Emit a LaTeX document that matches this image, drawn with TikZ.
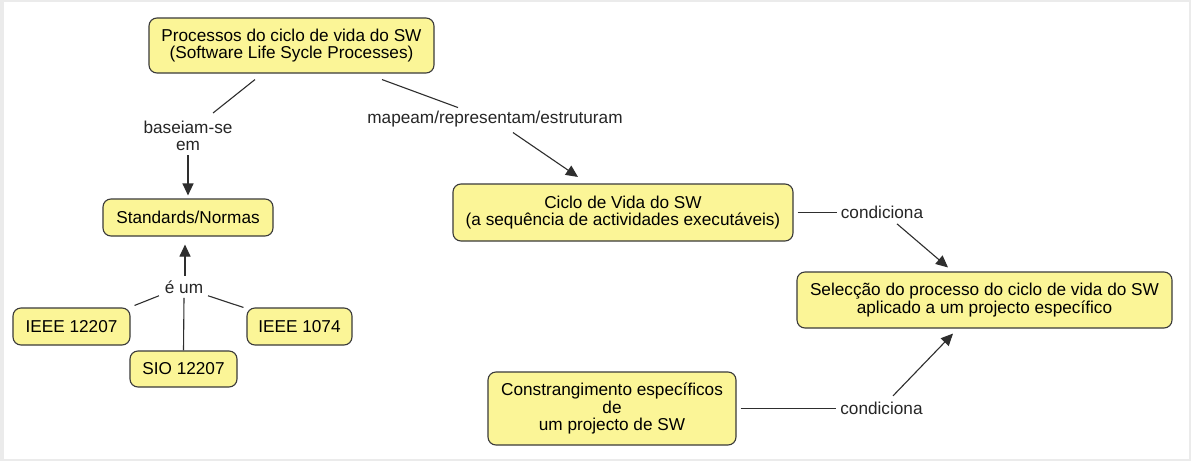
\documentclass[tikz,border=0pt]{standalone}
\usepackage{fontspec}
\setmainfont{Liberation Sans}
\usetikzlibrary{arrows.meta}
\definecolor{cmYellow}{HTML}{FBF597}
\definecolor{cmEdge}{HTML}{3A3A3A}
\definecolor{cmLine}{HTML}{2E2E2E}
\definecolor{cmFrame}{HTML}{EBEBEB}
\newcommand{\cmfont}{\fontsize{17.2}{17.5}\selectfont}
\tikzset{
  concept/.style   = {draw=cmEdge, fill=cmYellow, line width=1.1pt,
                      rounded corners=8pt, align=center, inner sep=0pt, font=\cmfont},
  linklbl/.style   = {align=center, inner sep=0pt, font=\cmfont, text=black!85},
  linkline/.style  = {cmLine, line width=1.1pt},
  linkarrow/.style = {linkline, -{Triangle[length=12pt, width=11pt]}},
}

\begin{document}
\begin{tikzpicture}[x=1pt,y=-1pt]
  \useasboundingbox (0,0) rectangle (1191,461);
  \fill[cmFrame] (0,0) rectangle (1191,461);
  \fill[white] (4,2) rectangle (1189,459);

  \node[concept, minimum width=285pt, minimum height=55pt] (proc) at (291.5,45.5)
    {Processos do ciclo de vida do SW\\(Software Life Sycle Processes)};
  \node[concept, minimum width=170pt, minimum height=37pt] (std) at (188,217.5) {Standards/Normas};
  \node[concept, minimum width=117pt, minimum height=37pt] (ieeeA) at (71.5,326.5) {IEEE 12207};
  \node[concept, minimum width=107pt, minimum height=36pt] (sio) at (183.5,369) {SIO 12207};
  \node[concept, minimum width=105pt, minimum height=37pt] (ieeeB) at (299.5,326.5) {IEEE 1074};
  \node[concept, minimum width=340pt, minimum height=57pt] (ciclo) at (623,212.5)
    {Ciclo de Vida do SW\\(a sequência de actividades executáveis)};
  \node[concept, minimum width=375pt, minimum height=56pt] (sel) at (984.5,300)
    {Selecção do processo do ciclo de vida do SW\\aplicado a um projecto específico};
  \node[concept, minimum width=248pt, minimum height=73pt] (cons) at (612,408.5)
    {Constrangimento específicos\\de\\um projecto de SW};

  \node[linklbl] (base) at (188,136) {baseiam-se\\em};
  \node[linklbl, anchor=base] (mapeam) at (495,123) {mapeam/representam/estruturam};
  \node[linklbl, anchor=base] (eum) at (184,293) {é um};
  \node[linklbl, anchor=base] (condA) at (882,218) {condiciona};
  \node[linklbl, anchor=base] (condB) at (881.5,414) {condiciona};

  \draw[linkline] ([xshift=-36.5pt,yshift=-6pt]proc.south) -- ([xshift=25pt,yshift=23pt]base.center);
  \draw[linkarrow] ([yshift=-19pt]base.center) -- ([yshift=3pt]std.north);
  \draw[linkline] ([xshift=90.5pt,yshift=-6pt]proc.south) -- ([xshift=-37pt,yshift=11pt]mapeam.center);
  \draw[linkarrow] ([xshift=18pt,yshift=-14pt]mapeam.center) -- ([xshift=-45pt,yshift=6.5pt]ciclo.north);

  \draw[linkarrow] ([xshift=1pt,yshift=11pt]eum.center) -- ([xshift=-3pt,yshift=-8pt]std.south);
  \draw[linkline] ([xshift=-25pt,yshift=-9pt]eum.center) -- ([xshift=4pt,yshift=2pt]ieeeA.north east);
  \draw[linkline] ([xshift=24pt,yshift=-9pt]eum.center) -- ([xshift=-3pt]ieeeB.north west);
  \draw[linkline] ([yshift=-11pt]eum.center) -- (sio.north);

  \draw[linkline] ([xshift=4pt]ciclo.east) -- ([xshift=-45pt]condA.center |- ciclo.east);
  \draw[linkarrow] ([xshift=15pt,yshift=-12pt]condA.center) -- ([xshift=-36.5pt,yshift=4pt]sel.north);
  \draw[linkline] ([xshift=4pt]cons.east) -- ([xshift=-45.5pt]condB.center |- cons.east);
  \draw[linkarrow] ([xshift=11.5pt,yshift=12pt]condB.center) -- ([xshift=-31.5pt,yshift=-5pt]sel.south);
\end{tikzpicture}
\end{document}
